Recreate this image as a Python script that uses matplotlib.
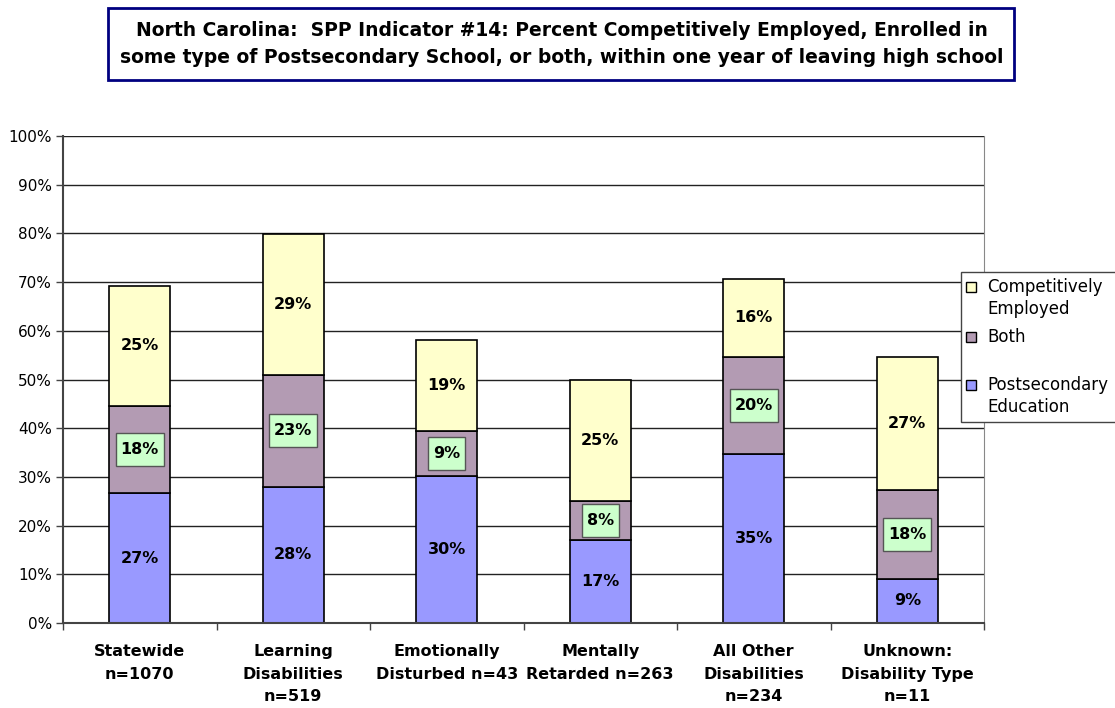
import matplotlib
matplotlib.use("Agg")
import matplotlib.pyplot as plt
from matplotlib.patches import Rectangle
from matplotlib.path import Path
import numpy as np

plt.rcParams['font.family'] = ['DejaVu Sans']

categories = ["Statewide\nn=1070", "Learning\nDisabilities\nn=519", "Emotionally\nDisturbed n=43",
              "Mentally\nRetarded n=263", "All Other\nDisabilities\nn=234", "Unknown:\nDisability Type\nn=11"]
postsecondary = [26.6, 28.0, 30.2, 17.0, 34.6, 9.1]
both = [18.0, 23.0, 9.3, 8.1, 20.1, 18.2]
employed = [24.6, 28.8, 18.7, 24.8, 15.9, 27.3]
series_names = ["Competitively\nEmployed", "Both", "Postsecondary\nEducation"]
yticks = [0, 10, 20, 30, 40, 50, 60, 70, 80, 90, 100]

c_post = "#9999FF"
c_both = "#B39BB3"
c_emp = "#FFFFCC"


def label_box(x0, y0, width, height, mutation_size):
    padx = 0.3 * mutation_size
    cy = y0 + height / 2
    hh = 1.05 * mutation_size
    xa, xb = x0 - padx, x0 + width + padx
    ya, yb = cy - hh, cy + hh
    return Path([(xa, ya), (xb, ya), (xb, yb), (xa, yb), (xa, ya)],
                [Path.MOVETO, Path.LINETO, Path.LINETO, Path.LINETO, Path.CLOSEPOLY])


fig = plt.figure(figsize=(11.15, 7.08), dpi=100)
ax = fig.add_axes([63/1115, 1-623/708, (984-63)/1115, (623-136)/708])

x = np.arange(len(categories))
w = 0.4
post = np.array(postsecondary)
bo = np.array(both)
em = np.array(employed)

ax.set_axisbelow(True)
for t in yticks[1:]:
    ax.axhline(t, color="#222222", lw=1.0, zorder=0)

ax.bar(x, post, w, color=c_post, edgecolor="black", lw=1.2, zorder=2)
ax.bar(x, bo, w, bottom=post, color=c_both, edgecolor="black", lw=1.2, zorder=2)
ax.bar(x, em, w, bottom=post+bo, color=c_emp, edgecolor="black", lw=1.2, zorder=2)

for i in range(len(x)):
    ax.text(x[i], post[i]/2, f"{post[i]:.0f}%", ha="center", va="center",
            fontsize=11.5, fontweight="bold", zorder=3)
    ax.text(x[i], post[i] + bo[i]/2, f"{bo[i]:.0f}%", ha="center", va="center",
            fontsize=11.5, fontweight="bold", zorder=3,
            bbox=dict(boxstyle=label_box, fc="#CCFFCC", ec="#555555", lw=1))
    ax.text(x[i], post[i] + bo[i] + em[i]/2, f"{em[i]:.0f}%", ha="center", va="center",
            fontsize=11.5, fontweight="bold", zorder=3)

ax.set_xlim(-0.5, len(x)-0.5)
ax.set_ylim(0, 100)
ax.set_yticks(yticks)
ax.set_yticklabels([f"{t}%" for t in yticks], fontsize=11)
ax.tick_params(axis="y", direction="out", length=5, width=1, color="#444444", pad=3)
ax.set_xticks(x)
ax.set_xticklabels(categories, fontsize=11.5, fontweight="bold", linespacing=1.65, va="top")
ax.tick_params(axis="x", length=0, pad=15)
ax.set_xticks(np.arange(-0.5, len(x)), minor=True)
ax.tick_params(axis="x", which="minor", direction="out", length=5, width=1, color="#444444")

for s in ["left", "bottom"]:
    ax.spines[s].set_color("#444444")
    ax.spines[s].set_linewidth(1.5)
ax.spines["right"].set_color("#888888")
ax.spines["top"].set_visible(False)

# title box
fig.patches.append(Rectangle((108/1115, 1-80/708), (1014-108)/1115, (80-8)/708,
                             transform=fig.transFigure, fill=False, ec="#000080", lw=2))
fig.text(562/1115, 1-44/708,
         "North Carolina:  SPP Indicator #14: Percent Competitively Employed, Enrolled in\n"
         "some type of Postsecondary School, or both, within one year of leaving high school",
         ha="center", va="center", fontsize=13.5, fontweight="bold", linespacing=1.53)

# legend
fig.patches.append(Rectangle((960.5/1115, 1-421.5/708), (1125-960.5)/1115, (421.5-271.5)/708,
                             transform=fig.transFigure, fc="white", ec="#444444", lw=1, zorder=5))
leg_colors = [c_emp, c_both, c_post]
leg_y = [287, 337, 385]
for name, col, yy in zip(series_names, leg_colors, leg_y):
    fig.patches.append(Rectangle((966/1115, 1-(yy+5)/708), 10/1115, 10/708,
                                 transform=fig.transFigure, fc=col, ec="black", lw=1, zorder=6))
    fig.text(987/1115, 1-(yy-9)/708, name, ha="left", va="top", fontsize=12,
             linespacing=1.26, zorder=7)

fig.savefig("out.png", dpi=100)
